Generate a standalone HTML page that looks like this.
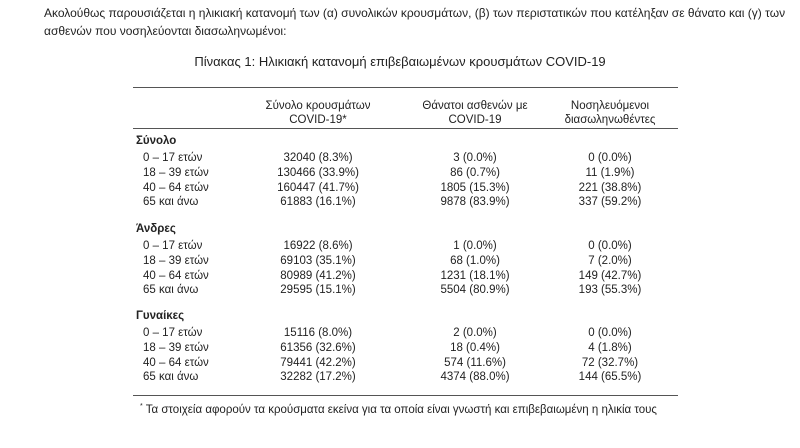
<!DOCTYPE html>
<html><head><meta charset="utf-8"><style>
body{margin:0;width:800px;height:448px;background:#fff;overflow:hidden;font-family:"Liberation Sans","DejaVu Sans",sans-serif;color:#222;position:relative}
.t{position:absolute;white-space:nowrap;font-size:11.5px;line-height:14px}
.c{transform:translateX(-50%);text-align:center}
.b{font-weight:bold}
.l{position:absolute;left:133px;width:545px;height:0;border-top:1.5px solid #555}
</style></head><body>
<div class="t" style="left:44px;top:6px;font-size:12px">Ακολούθως παρουσιάζεται η ηλικιακή κατανομή των (α) συνολικών κρουσμάτων, (β) των περιστατικών που κατέληξαν σε θάνατο και (γ) των</div>
<div class="t" style="left:44px;top:24px;font-size:12px">ασθενών που νοσηλεύονται διασωληνωμένοι:</div>
<div class="t c" style="left:400px;top:55px;font-size:13px">Πίνακας 1: Ηλικιακή κατανομή επιβεβαιωμένων κρουσμάτων COVID-19</div>
<div class="l" style="top:87px"></div>
<div class="t c" style="left:318px;top:99px">Σύνολο κρουσμάτων<br>COVID-19*</div>
<div class="t c" style="left:475px;top:99px">Θάνατοι ασθενών με<br>COVID-19</div>
<div class="t c" style="left:610px;top:99px">Νοσηλευόμενοι<br>διασωληνωθέντες</div>
<div class="l" style="top:128px"></div>
<div id="rows"></div>
<div class="l" style="top:395px"></div>
<div class="t" style="left:140px;top:400px"><sup style="font-size:7px">*</sup> Τα στοιχεία αφορούν τα κρούσματα εκείνα για τα οποία είναι γνωστή και επιβεβαιωμένη η ηλικία τους</div>
<script>
var g=[["Σύνολο",134,[["32040 (8.3%)","3 (0.0%)","0 (0.0%)"],["130466 (33.9%)","86 (0.7%)","11 (1.9%)"],["160447 (41.7%)","1805 (15.3%)","221 (38.8%)"],["61883 (16.1%)","9878 (83.9%)","337 (59.2%)"]]],
["Άνδρες",222,[["16922 (8.6%)","1 (0.0%)","0 (0.0%)"],["69103 (35.1%)","68 (1.0%)","7 (2.0%)"],["80989 (41.2%)","1231 (18.1%)","149 (42.7%)"],["29595 (15.1%)","5504 (80.9%)","193 (55.3%)"]]],
["Γυναίκες",309,[["15116 (8.0%)","2 (0.0%)","0 (0.0%)"],["61356 (32.6%)","18 (0.4%)","4 (1.8%)"],["79441 (42.2%)","574 (11.6%)","72 (32.7%)"],["32282 (17.2%)","4374 (88.0%)","144 (65.5%)"]]]];
var ages=["0 – 17 ετών","18 – 39 ετών","40 – 64 ετών","65 και άνω"],h="";
g.forEach(function(x){h+='<div class="t b" style="left:136px;top:'+x[1]+'px">'+x[0]+'</div>';
x[2].forEach(function(r,i){var y=x[1]+17+i*14.8;
h+='<div class="t" style="left:143px;top:'+y+'px">'+ages[i]+'</div>';
[318,475,610].forEach(function(cx,j){h+='<div class="t c" style="left:'+cx+'px;top:'+y+'px">'+r[j]+'</div>';});});});
document.getElementById('rows').innerHTML=h;
</script>
</body></html>
